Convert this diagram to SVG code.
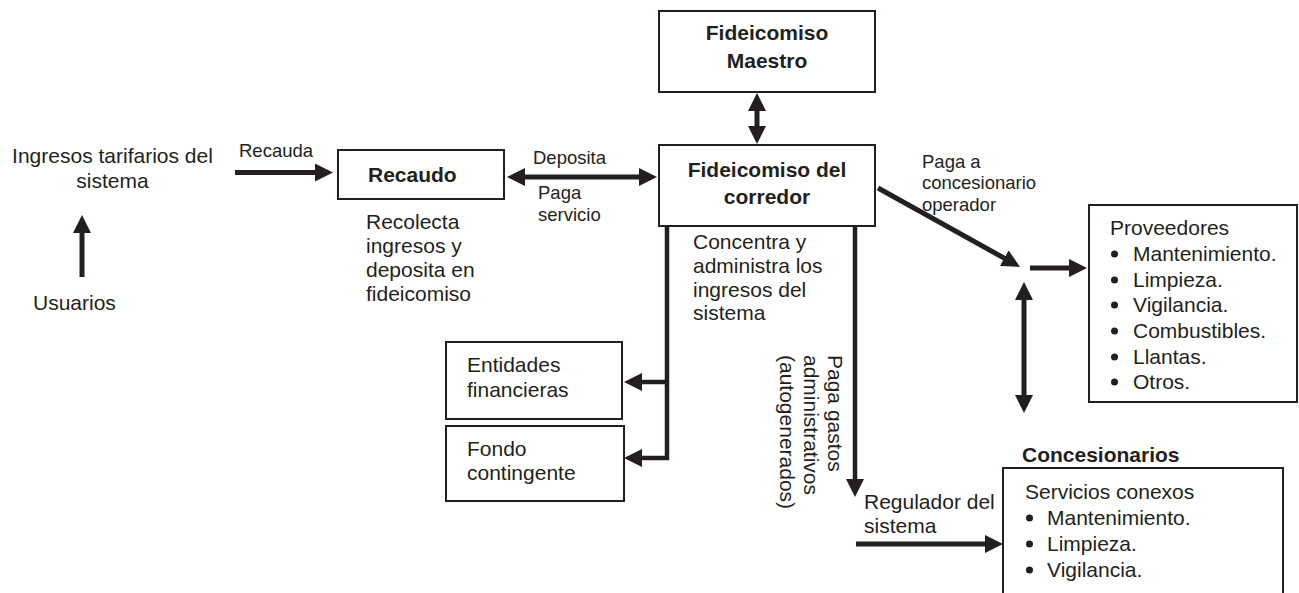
<svg xmlns="http://www.w3.org/2000/svg" width="1299" height="593" viewBox="0 0 1299 593">
<style>
text{font-family:"Liberation Sans",Arial,sans-serif;fill:#231f20;}
.t{font-size:21px;}
.s{font-size:18.5px;}
.b{font-size:21px;font-weight:bold;}
.box{fill:#fff;stroke:#231f20;stroke-width:2;}
.c{fill:none;stroke:#231f20;stroke-width:5;}
.c4{fill:none;stroke:#231f20;stroke-width:4.5;}
.dot{fill:#231f20;}
</style>
<defs>
<marker id="ah" markerUnits="userSpaceOnUse" markerWidth="18" markerHeight="18" refX="6" refY="9" orient="auto-start-reverse" viewBox="0 0 18 18">
<path d="M0,0 L18,9 L0,18 z" fill="#231f20"/>
</marker>
</defs>

<g id="ingresos">
<text class="t" x="112.5" y="163" text-anchor="middle">Ingresos tarifarios del</text>
<text class="t" x="112.5" y="188" text-anchor="middle">sistema</text>
</g>
<g id="usuarios">
<text class="t" x="33" y="310">Usuarios</text>
</g>
<g id="recaudo">
<rect class="box" x="338" y="150" width="166" height="49"/>
<text class="b" x="368" y="182">Recaudo</text>
<text class="t" x="366" y="229">Recolecta</text>
<text class="t" x="366" y="253">ingresos y</text>
<text class="t" x="366" y="277">deposita en</text>
<text class="t" x="366" y="301">fideicomiso</text>
</g>
<g id="maestro">
<rect class="box" x="659" y="11" width="216" height="81"/>
<text class="b" x="767" y="40" text-anchor="middle">Fideicomiso</text>
<text class="b" x="767" y="68" text-anchor="middle">Maestro</text>
</g>
<g id="corredor">
<rect class="box" x="659" y="145" width="216" height="81"/>
<text class="b" x="767" y="177" text-anchor="middle">Fideicomiso del</text>
<text class="b" x="767" y="204" text-anchor="middle">corredor</text>
<text class="t" x="693" y="249">Concentra y</text>
<text class="t" x="693" y="273">administra los</text>
<text class="t" x="693" y="297">ingresos del</text>
<text class="t" x="693" y="320">sistema</text>
</g>
<g id="entidades">
<rect class="box" x="446" y="342" width="176" height="77"/>
<text class="t" x="467" y="372">Entidades</text>
<text class="t" x="467" y="397">financieras</text>
</g>
<g id="fondo">
<rect class="box" x="446" y="426" width="178" height="75"/>
<text class="t" x="467" y="456">Fondo</text>
<text class="t" x="467" y="480">contingente</text>
</g>
<g id="regulador">
<text class="t" x="864" y="509">Regulador del</text>
<text class="t" x="864" y="533">sistema</text>
</g>
<g id="proveedores">
<rect class="box" x="1089" y="205" width="208" height="197"/>
<text class="t" x="1110" y="235">Proveedores</text>
<circle class="dot" cx="1114.5" cy="254" r="3.5"/>
<text class="t" x="1133" y="261">Mantenimiento.</text>
<circle class="dot" cx="1114.5" cy="280" r="3.5"/>
<text class="t" x="1133" y="287">Limpieza.</text>
<circle class="dot" cx="1114.5" cy="305" r="3.5"/>
<text class="t" x="1133" y="312">Vigilancia.</text>
<circle class="dot" cx="1114.5" cy="331" r="3.5"/>
<text class="t" x="1133" y="338">Combustibles.</text>
<circle class="dot" cx="1114.5" cy="357" r="3.5"/>
<text class="t" x="1133" y="364">Llantas.</text>
<circle class="dot" cx="1114.5" cy="382" r="3.5"/>
<text class="t" x="1133" y="389">Otros.</text>
</g>
<g id="concesionarios">
<text class="b" x="1022" y="462">Concesionarios</text>
<rect class="box" x="1003" y="468" width="280" height="140"/>
<text class="t" x="1025" y="499">Servicios conexos</text>
<circle class="dot" cx="1029.5" cy="518" r="3.5"/>
<text class="t" x="1047" y="525">Mantenimiento.</text>
<circle class="dot" cx="1029.5" cy="544" r="3.5"/>
<text class="t" x="1047" y="551">Limpieza.</text>
<circle class="dot" cx="1029.5" cy="570" r="3.5"/>
<text class="t" x="1047" y="577">Vigilancia.</text>
</g>

<g id="connectors">
<path class="c" d="M235,172.5 H321" marker-end="url(#ah)"/>
<path class="c" d="M82,277 V227" marker-end="url(#ah)"/>
<path class="c" d="M519,177 H645" marker-start="url(#ah)" marker-end="url(#ah)"/>
<path class="c" d="M757,105 V132" marker-start="url(#ah)" marker-end="url(#ah)"/>
<path class="c4" d="M667,226 V458 H636" marker-end="url(#ah)"/>
<path class="c4" d="M667,382 H636" marker-end="url(#ah)"/>
<path class="c4" d="M855,226 V485" marker-end="url(#ah)"/>
<path class="c" d="M856,544 H991" marker-end="url(#ah)"/>
<path class="c" d="M878,188 L1009.5,261.1" marker-end="url(#ah)"/>
<path class="c" d="M1030,268 H1075" marker-end="url(#ah)"/>
<path class="c" d="M1024,294 V401" marker-start="url(#ah)" marker-end="url(#ah)"/>
</g>

<g id="labels">
<text class="s" x="239" y="157">Recauda</text>
<text class="s" x="533" y="164">Deposita</text>
<text class="s" x="538" y="199">Paga</text>
<text class="s" x="538" y="221">servicio</text>
<text class="s" x="922" y="168">Paga a</text>
<text class="s" x="922" y="189">concesionario</text>
<text class="s" x="922" y="211">operador</text>
<g transform="translate(828,355) rotate(90)">
<text class="t" x="0" y="0">Paga gastos</text>
<text class="t" x="0" y="24">administrativos</text>
<text class="t" x="0" y="48">(autogenerados)</text>
</g>
</g>
</svg>
